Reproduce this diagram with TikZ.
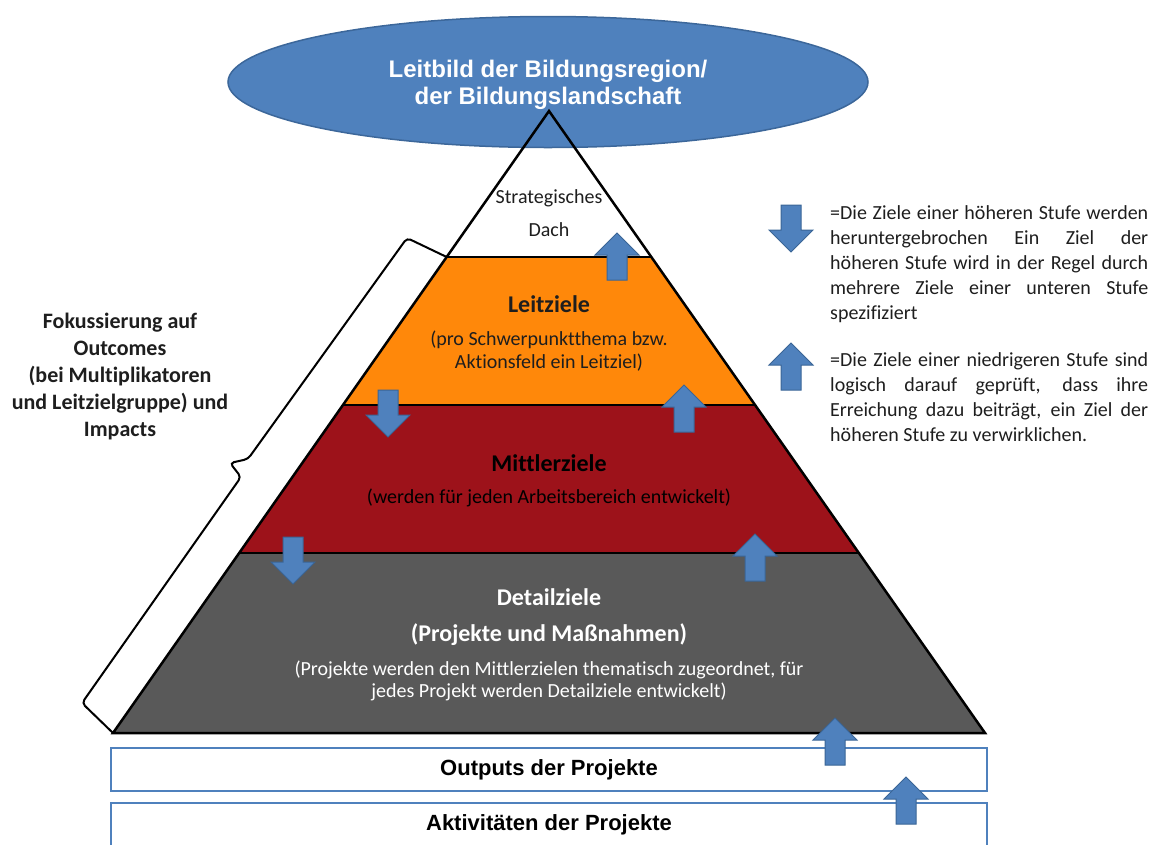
\documentclass[tikz,border=0pt]{standalone}
\usepackage{fontspec}
\setmainfont{Carlito}[Ligatures=NoCommon]
\newfontfamily\arialfont{Liberation Sans}
\usetikzlibrary{shapes.geometric}
\definecolor{arrowblue}{HTML}{4F81BD}
\definecolor{arrowedge}{HTML}{3A6596}
\definecolor{ellfill}{HTML}{4F81BD}
\definecolor{elledge}{HTML}{3C679A}
\definecolor{boxblue}{HTML}{4F81BD}
\definecolor{bandorange}{HTML}{FF880A}
\definecolor{bandred}{HTML}{9D121A}
\definecolor{bandgray}{HTML}{595959}
\definecolor{darktext}{HTML}{1E1E1E}
\begin{document}
\begin{tikzpicture}[x=1pt,y=-1pt,
  edgeline/.style={draw=black, line width=2.5pt, line join=miter},
  blockarrow/.style={fill=arrowblue, draw=arrowedge, line width=1pt, line join=miter},
  pics/uparrow/.style={code={\path[blockarrow] (0,0) -- (22,22) -- (10,22) -- (10,47) -- (-10,47) -- (-10,22) -- (-22,22) -- cycle;}},
  pics/downarrow/.style={code={\path[blockarrow] (-10,0) -- (10,0) -- (10,25) -- (22,25) -- (0,47) -- (-22,25) -- (-10,25) -- cycle;}},
  bodytext/.style={inner sep=0pt, font=\fontsize{20}{23}\selectfont, align=center},
  headtext/.style={inner sep=0pt, font=\fontsize{24}{28}\selectfont\bfseries},
  legendtext/.style={inner sep=0pt, font=\fontsize{20}{25}\selectfont, align=left, text=darktext},
  fokustext/.style={inner sep=0pt, font=\fontsize{22}{27}\selectfont\bfseries, align=center, text=darktext},
  projbox/.style={draw=boxblue, line width=2pt, fill=white, minimum width=876pt, inner sep=0pt,
                  font=\arialfont\bfseries\fontsize{22}{26}\selectfont, text=black},
  bracestyle/.style={draw=black, line width=2pt, rounded corners=4pt}
]
\useasboundingbox (0,0) rectangle (1155,844);

% key points of the pyramid
\coordinate (apex) at (549,111);
\coordinate (l1) at (446.7,257); \coordinate (r1) at (651.3,257);
\coordinate (l2) at (342.9,405); \coordinate (r2) at (755.1,405);
\coordinate (l3) at (239.2,553); \coordinate (r3) at (858.8,553);
\coordinate (l4) at (113,733);   \coordinate (r4) at (985,733);

% bands
\fill[bandorange] (l1) -- (r1) -- (r2) -- (l2) -- cycle;
\fill[bandred] (l2) -- (r2) -- (r3) -- (l3) -- cycle;
\fill[bandgray] (l3) -- (r3) -- (r4) -- (l4) -- cycle;

% vision ellipse
\node[ellipse, draw=elledge, fill=ellfill, line width=1.5pt, minimum width=640pt, minimum height=131pt]
  (leitbild) at (548,82) {};
\node[align=center, inner sep=0pt, text=white, font=\arialfont\bfseries\fontsize{24}{27}\selectfont]
  (leitbildtext) at (548,85) {Leitbild der Bildungsregion/\\der Bildungslandschaft};

% pyramid outline
\draw[edgeline] (l4) -- (apex) -- (r4) -- cycle;
\draw[edgeline] (l1) -- (r1);
\draw[edgeline] (l2) -- (r2);
\draw[edgeline] (l3) -- (r3);

% brace along the left side
\draw[bracestyle] (l1) -- (407,238) -- (248,459) -- (230,463) -- (241,477) -- (82,703) -- (l4);

% project boxes
\node[projbox, minimum height=43pt] (outputs) at (549,769.5) {Outputs der Projekte};
\node[projbox, minimum height=44pt] (aktiv) at (549,825) {Aktivitäten der Projekte};

% block arrows in the pyramid
\pic at (617,233) {uparrow};
\pic at (388,390) {downarrow};
\pic at (684,385) {uparrow};
\pic at (293,537) {downarrow};
\pic at (755,534) {uparrow};
\pic at (835,718) {uparrow};
\pic at (906,777) {uparrow};

% legend arrows
\pic at (791,205) {downarrow};
\pic at (791,343) {uparrow};

% pyramid texts
\node[bodytext, text=darktext] (strat) at (549,198) {Strategisches};
\node[bodytext, text=darktext] (dach) at (549,230) {Dach};
\node[headtext, text=darktext] (leit) at (549,304) {Leitziele};
\node[bodytext, text=darktext] (leitsub) at (549,351) {(pro Schwerpunktthema bzw.\\Aktionsfeld ein Leitziel)};
\node[headtext, text=black] (mittler) at (549,463) {Mittlerziele};
\node[bodytext, text=black] (mittlersub) at (549,498) {(werden für jeden Arbeitsbereich entwickelt)};
\node[headtext, text=white] (detail) at (549,597) {Detailziele};
\node[headtext, text=white] (detailsub) at (549,635) {(Projekte und Maßnahmen)};
\node[bodytext, text=white, font=\fontsize{20}{22}\selectfont] (detailtxt) at (549,681)
  {(Projekte werden den Mittlerzielen thematisch zugeordnet, für\\jedes Projekt werden Detailziele entwickelt)};

% left label
\node[fokustext] (fokus) at (120,377) {Fokussierung auf\\Outcomes\\(bei Multiplikatoren\\und Leitzielgruppe) und\\Impacts};

% legend texts
\node[legendtext, anchor=north west] (legdown) at (830,205) {%
\makebox[318pt][s]{=Die Ziele einer höheren Stufe werden}\\
\makebox[318pt][s]{heruntergebrochen Ein Ziel der}\\
\makebox[318pt][s]{höheren Stufe wird in der Regel durch}\\
\makebox[318pt][s]{mehrere Ziele einer unteren Stufe}\\
spezifiziert};
\node[legendtext, anchor=north west] (legup) at (830,352) {%
\makebox[318pt][s]{=Die Ziele einer niedrigeren Stufe sind}\\
\makebox[318pt][s]{logisch darauf geprüft, dass ihre}\\
\makebox[318pt][s]{Erreichung dazu beiträgt, ein Ziel der}\\
höheren Stufe zu verwirklichen.};
\end{tikzpicture}
\end{document}
